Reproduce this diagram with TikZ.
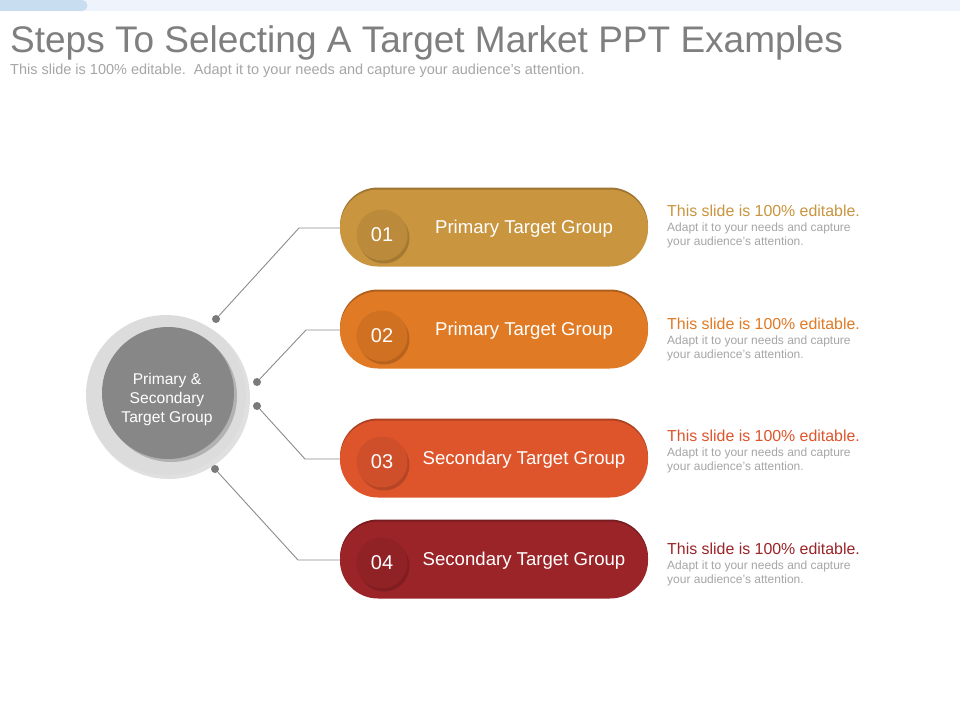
\documentclass[tikz,border=0pt]{standalone}
\usepackage{fontspec}
\setmainfont{Liberation Sans}
\usetikzlibrary{positioning, calc}

\definecolor{titlegray}{HTML}{7F7F7F}
\definecolor{subgray}{HTML}{A6A6A6}
\definecolor{barblue}{HTML}{EFF3FB}
\definecolor{tabblue}{HTML}{C8DDF0}
\definecolor{dotgray}{HTML}{7A7A7A}
\definecolor{linegray}{HTML}{8C8C8C}
\definecolor{ringgray}{HTML}{DCDCDC}
\definecolor{hubgray}{HTML}{878787}
\definecolor{gold}{HTML}{C9953F}
\definecolor{orng}{HTML}{E07A24}
\definecolor{rust}{HTML}{DE552C}
\definecolor{wine}{HTML}{9B2428}

\begin{document}
\begin{tikzpicture}[x=1pt, y=-1pt,
    pill/.style={rectangle, rounded corners=38pt, minimum width=308pt, minimum height=77pt, inner sep=0pt},
    numdisc/.style={circle, minimum size=51pt, inner sep=0pt, text=white, font=\fontsize{20}{24}\selectfont},
    pilltext/.style={text=white, inner sep=0pt, font=\fontsize{18.6}{22}\selectfont},
    headtext/.style={anchor=base west, inner sep=0pt, font=\fontsize{15.9}{18}\selectfont},
    greytext/.style={anchor=base west, inner sep=0pt, text=subgray, font=\fontsize{12}{14}\selectfont},
    dot/.style={circle, fill=dotgray, minimum size=8pt, inner sep=0pt},
    link/.style={draw=linegray, line width=0.9pt}
  ]
  \useasboundingbox (0,0) rectangle (960,720);
  \fill[white] (0,0) rectangle (960,720);

  % top band
  \fill[barblue] (0,0) rectangle (960,11);
  \fill[tabblue] (0,0) -- (82,0) arc[start angle=-90, end angle=90, radius=5.5] -- (0,11) -- cycle;

  % title
  \node[anchor=base west, inner sep=0pt, text=titlegray, font=\fontsize{37}{40}\selectfont] (title) at (10,52)
    {Steps To Selecting A Target Market PPT Examples};
  \node[anchor=base west, inner sep=0pt, text=subgray, font=\fontsize{14.5}{16}\selectfont] (subtitle) at (10,74)
    {This slide is 100\% editable.\ \ Adapt it to your needs and capture your audience's attention.};

  % hub circle
  \fill[black!12] (169,398) circle (81);
  \node[circle, minimum size=160pt, inner sep=0pt, fill=ringgray] (ring) at (166,395) {};
  \fill[black!30] (171,396) circle (66);
  \node[circle, minimum size=132pt, inner sep=0pt, fill=hubgray] (hub) at (168,393) {};
  \node[text=white, align=center, inner sep=0pt, font=\fontsize{15.6}{19}\selectfont] (hubtext) at (167,399)
    {Primary \&\\Secondary\\Target Group};

  % pills
  \foreach \i/\yy/\ny/\col/\txt in {1/228/236/gold/Primary Target Group, 2/330/337/orng/Primary Target Group,
                                     3/459/463/rust/Secondary Target Group, 4/560/564/wine/Secondary Target Group} {
    \node[pill, fill=\col!78!black] at (494,\yy-2) {};
    \node[pill, fill=\col] (p\i) at (494,\yy) {};
    \node[numdisc, fill=black, opacity=0.18] at (384,\ny+2) {};
    \node[numdisc, fill=\col!93!black] (n\i) at (382,\ny-1) {0\i};
    \node[pilltext] (t\i) at (524,\yy+1) {\txt};
  }

  % side notes
  \foreach \i/\yy/\col in {1/216.5/gold, 2/329.5/orng, 3/441.5/rust, 4/554.5/wine} {
    \node[headtext, text=\col] (h\i) at (667,\yy) {This slide is 100\% editable.};
    \node[greytext] (g\i) at (667,\yy+14.5) {Adapt it to your needs and capture};
    \node[greytext] (gg\i) at (667,\yy+28.5) {your audience's attention.};
  }

  % connectors
  \node[dot] (d1) at (216,319) {};
  \node[dot] (d2) at (257,382) {};
  \node[dot] (d3) at (257,406) {};
  \node[dot] (d4) at (215,469) {};
  \coordinate (b1) at (299,228);
  \coordinate (b2) at (306,330);
  \coordinate (b3) at (305,459);
  \coordinate (b4) at (298,560);
  \foreach \i in {1,...,4} {
    \draw[link] (d\i) -- (b\i) -- (p\i.west);
  }
\end{tikzpicture}
\end{document}
